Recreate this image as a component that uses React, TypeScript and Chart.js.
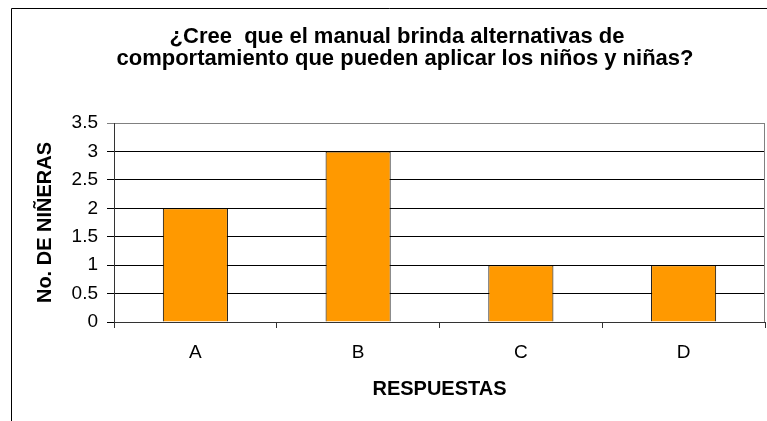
import React, { useEffect, useRef } from "react";
import { Chart, registerables } from "chart.js";

Chart.register(...registerables);

const categories = ["A", "B", "C", "D"];
const values = [2, 3, 1, 1];
const titleLines = [
  "¿Cree  que el manual brinda alternativas de",
  "comportamiento que pueden aplicar los niños y niñas?",
];
const yAxisTitle = "No. DE NIÑERAS";
const xAxisTitle = "RESPUESTAS";

const FONT = "'Liberation Sans', Arial, sans-serif";

const decorPlugin = {
  id: "decor",
  afterDraw(chart: any) {
    const ctx = chart.ctx;
    const a = chart.chartArea;
    ctx.save();
    // outer frame (left and top)
    ctx.strokeStyle = "#000";
    ctx.lineWidth = 1;
    ctx.beginPath();
    ctx.moveTo(11.5, 421);
    ctx.lineTo(11.5, 8.5);
    ctx.lineTo(767, 8.5);
    ctx.stroke();
    // plot right border
    ctx.strokeStyle = "#808080";
    ctx.beginPath();
    ctx.moveTo(Math.round(a.right) - 0.5, a.top);
    ctx.lineTo(Math.round(a.right) - 0.5, a.bottom);
    ctx.stroke();
    // title
    ctx.fillStyle = "#000";
    ctx.textAlign = "center";
    ctx.textBaseline = "middle";
    ctx.font = `bold 22px ${FONT}`;
    ctx.fillText(titleLines[0], 397, 37);
    ctx.fillText(titleLines[1], 405, 59);
    // x axis title
    ctx.font = `bold 20px ${FONT}`;
    ctx.fillText(xAxisTitle, (a.left + a.right) / 2, 389);
    // y axis title
    ctx.translate(45, (a.top + a.bottom) / 2);
    ctx.rotate(-Math.PI / 2);
    ctx.fillText(yAxisTitle, 0, 0);
    ctx.restore();
  },
};

export default function App() {
  const ref = useRef<HTMLCanvasElement | null>(null);
  useEffect(() => {
    if (!ref.current) return;
    const chart = new Chart(ref.current, {
      type: "bar",
      data: {
        labels: categories,
        datasets: [
          {
            data: values,
            backgroundColor: "#FF9900",
            borderColor: "#000",
            borderWidth: 1,
            categoryPercentage: 1,
            barPercentage: 0.4,
          },
        ],
      },
      options: {
        responsive: false,
        animation: false,
        layout: { padding: { left: 0, right: 2, top: 123, bottom: 0 } },
        plugins: { legend: { display: false }, title: { display: false }, tooltip: { enabled: false } },
        scales: {
          x: {
            grid: { drawOnChartArea: false, drawTicks: true, tickLength: 6, color: "#333", offset: true },
            border: { color: "#333" },
            ticks: { color: "#000", font: { family: FONT, size: 19 }, padding: 13 },
            afterFit: (s: any) => {
              s.height = 99;
            },
          },
          y: {
            min: 0,
            max: 3.5,
            ticks: {
              stepSize: 0.5,
              color: "#000",
              font: { family: FONT, size: 19 },
              padding: 9,
              callback: (v: any) => String(v),
            },
            grid: {
              tickLength: 7,
              color: (c: any) => (c.tick && c.tick.value === 3.5 ? "#808080" : "#000"),
            },
            border: { color: "#333" },
            afterFit: (s: any) => {
              s.width = 114;
            },
          },
        },
      },
      plugins: [decorPlugin],
    });
    return () => chart.destroy();
  }, []);
  return (
    <div style={{ position: "absolute", left: 0, top: 0, width: 767, height: 421, background: "#fff" }}>
      <canvas ref={ref} width={767} height={421} />
    </div>
  );
}
